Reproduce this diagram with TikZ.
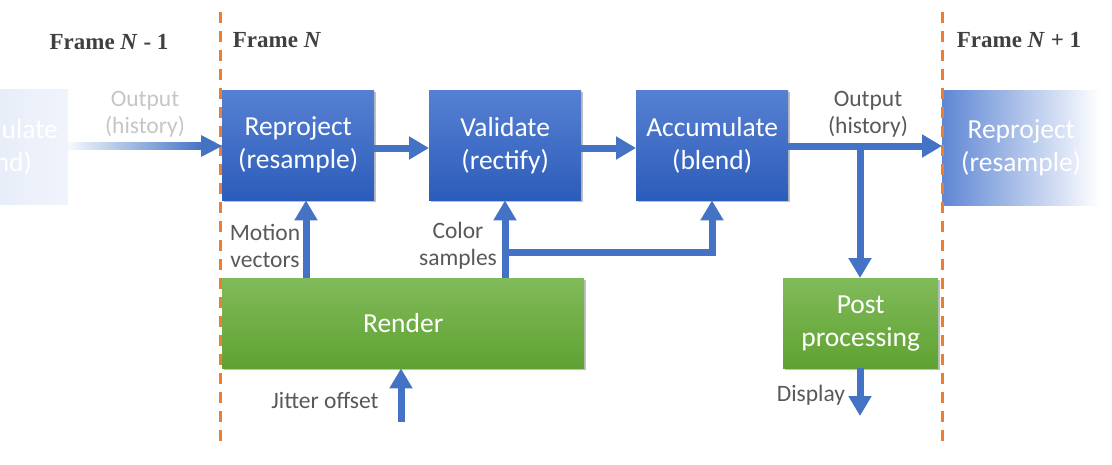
\documentclass[tikz,border=0pt]{standalone}
\usepackage{fontspec}
\setmainfont{Carlito}
\newfontfamily\serifb{Liberation Serif}
\usetikzlibrary{arrows.meta,shadows}
\definecolor{arrowblue}{RGB}{68,114,196}
\definecolor{boxtop}{RGB}{86,128,210}
\definecolor{boxbot}{RGB}{44,92,186}
\definecolor{gtop}{RGB}{128,186,90}
\definecolor{gbot}{RGB}{96,162,50}
\definecolor{orangeline}{RGB}{237,125,49}
\definecolor{labgray}{RGB}{89,89,89}
\definecolor{framegray}{RGB}{64,64,64}
\tikzset{
  bluebox/.style={rectangle, top color=boxtop, bottom color=boxbot, text=white,
    minimum width=152pt, minimum height=110pt, anchor=north west, align=center,
    font=\fontsize{27.5}{33}\selectfont, inner sep=0pt,
    drop shadow={shadow xshift=1.5pt, shadow yshift=-1.5pt, opacity=0.25, fill=black}},
  greenbox/.style={rectangle, top color=gtop, bottom color=gbot, text=white,
    minimum height=90pt, anchor=north west, align=center,
    font=\fontsize{27.5}{33}\selectfont, inner sep=0pt,
    drop shadow={shadow xshift=1.5pt, shadow yshift=-1.5pt, opacity=0.25, fill=black}},
  conn/.style={draw=arrowblue, line width=7pt, -{Triangle[length=20pt,width=22pt]}},
  lab/.style={text=labgray, font=\fontsize{23.5}{27}\selectfont, align=center, inner sep=0pt},
  framelab/.style={text=framegray, font=\serifb\bfseries\fontsize{23}{26}\selectfont, inner sep=0pt},
  divider/.style={draw=orangeline, line width=3pt, dash pattern=on 11pt off 8pt},
}
\begin{document}
\begin{tikzpicture}[x=1pt,y=-1pt]
\useasboundingbox (0,0) rectangle (1112,464);
\clip (0,0) rectangle (1112,464);
\fill[white] (0,0) rectangle (1112,464);

% ghost boxes
\node[rectangle, left color=boxtop!20, right color=boxtop!9, text=white,
  minimum width=152pt, minimum height=115pt, align=center, inner sep=0pt,
  font=\fontsize{27.5}{33}\selectfont] (ghostL) at (-8,147) {Accumulate\\(blend)};
\shade[left color=boxtop!95, right color=white] (942,90) rectangle (1100,205);
\node[text=white, align=center, inner sep=0pt, font=\fontsize{27.5}{33}\selectfont,
  minimum width=158pt, minimum height=115pt, anchor=north west] (ghostR) at (942,90) {Reproject\\(resample)};

% main boxes
\node[bluebox] (reproj) at (222,90) {Reproject\\(resample)};
\node[bluebox] (valid) at (429,90) {Validate\\(rectify)};
\node[bluebox] (accum) at (636,90) {Accumulate\\(blend)};
\node[greenbox, minimum width=362pt] (render) at (222,278) {Render};
\node[greenbox, minimum width=155pt] (post) at (783,278) {Post\\processing};

% dividers
\draw[divider] (220,12) -- (220,448);
\draw[divider] (942,12) -- (942,448);

% frame labels
\node[framelab] (f1) at (109,42) {Frame \textit{N} - 1};
\node[framelab] (f2) at (277,40) {Frame \textit{N}};
\node[framelab] (f3) at (1019,40) {Frame \textit{N} + 1};

% left faded arrow
\shade[left color=arrowblue!5, right color=arrowblue] (ghostL.east |- 0,142.5) rectangle (203,149.5);
\fill[arrowblue] (201,135) -- (reproj.west |- 0,146) -- (201,157) -- cycle;
\node[lab, text=gray!45] (outL) at (145,114) {Output\\(history)};

% main arrows
\draw[conn] (reproj.east |- 0,148) -- (valid.west |- 0,148);
\draw[conn] (valid.east |- 0,148) -- (accum.west |- 0,148);
\draw[conn] (accum.east |- 0,146) -- (ghostR.west |- 0,146);
\coordinate (br) at (860,146);
\draw[conn] (br) -- (post.north -| br);
\node[lab] (outR) at (868,114) {Output\\(history)};

\coordinate (mv) at (306,0);
\draw[conn] (render.north -| mv) -- (reproj.south -| mv);
\node[lab] (mvl) at (265,246) {Motion\\vectors};

\coordinate (cs) at (505,0);
\draw[conn] (render.north -| cs) -- (valid.south -| cs);
\coordinate (csb) at (505,252);
\coordinate (acx) at (712,0);
\draw[conn] (csb) -- (acx |- csb) -- (accum.south -| acx);
\node[lab] (csl) at (458,246) {Color\\samples};

\coordinate (jit) at (401,422);
\draw[conn] (jit) -- (render.south -| jit);
\node[lab] (jl) at (325,400) {Jitter offset};

\coordinate (disp) at (860,416);
\draw[conn] (post.south -| disp) -- (disp);
\node[lab] (dl) at (811,395) {Display};
\end{tikzpicture}
\end{document}
